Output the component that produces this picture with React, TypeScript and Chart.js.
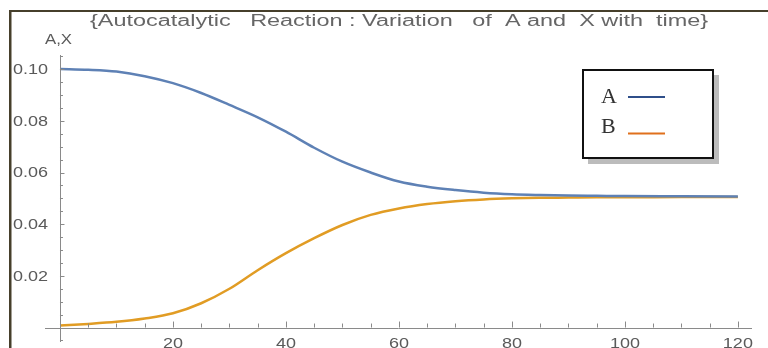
import React, { useEffect, useRef } from "react";
import { Chart, registerables } from "chart.js";

Chart.register(...registerables);

const TITLE = "{Autocatalytic   Reaction : Variation   of  A and  X with  time}";
const Y_AXIS_LABEL = "A,X";
const SERIES_NAMES = ["A", "B"];
const TIMES = [0, 5, 10, 15, 20, 25, 30, 35, 40, 45, 50, 55, 60, 65, 70, 75, 80, 85, 90, 95, 100, 110, 120];
const SERIES_A = [0.1001, 0.0998, 0.0991, 0.0973, 0.0946, 0.0908, 0.0862, 0.0814, 0.0758, 0.0696, 0.0642, 0.06, 0.0565, 0.0545, 0.0532, 0.0522, 0.0516, 0.0513, 0.0511, 0.051, 0.0509, 0.0508, 0.0507];
const SERIES_B = [0.0008, 0.0014, 0.0022, 0.0035, 0.0055, 0.0094, 0.015, 0.0222, 0.0288, 0.0346, 0.0397, 0.0436, 0.0461, 0.0478, 0.0489, 0.0496, 0.05, 0.0502, 0.0503, 0.0504, 0.0504, 0.0505, 0.0505];
const X_TICKS = [20, 40, 60, 80, 100, 120];
const X_TICK_LABELS = ["20", "40", "60", "80", "100", "120"];
const Y_TICKS = [0.02, 0.04, 0.06, 0.08, 0.1];
const Y_TICK_LABELS = ["0.02", "0.04", "0.06", "0.08", "0.10"];

const LINE_COLORS = ["#5e81b5", "#e19c24"];
const LEGEND_COLORS = ["#2f4f8a", "#e0701c"];
const SANS = "'Liberation Sans', Arial, sans-serif";
const SERIF = "'Liberation Serif', 'Times New Roman', serif";
const STRETCH = 1.2;

function stretchedText(ctx: CanvasRenderingContext2D, text: string, x: number, y: number, align: "left" | "center" | "right", sx: number = STRETCH) {
  const w = ctx.measureText(text).width * sx;
  let left = x;
  if (align === "center") left = x - w / 2;
  if (align === "right") left = x - w;
  ctx.save();
  ctx.translate(left, y);
  ctx.scale(sx, 1);
  ctx.textAlign = "left";
  ctx.fillText(text, 0, 0);
  ctx.restore();
}

const decorPlugin = {
  id: "decor",
  beforeDraw(chart: any) {
    const ctx: CanvasRenderingContext2D = chart.ctx;
    ctx.save();
    ctx.fillStyle = "#ffffff";
    ctx.fillRect(0, 0, chart.width, chart.height);
    ctx.fillStyle = "#463f2b";
    ctx.fillRect(9, 10, chart.width - 9, 2);
    ctx.fillRect(9, 10, 2.5, chart.height - 10);
    ctx.restore();
  },
  afterDatasetsDraw(chart: any) {
    const ctx: CanvasRenderingContext2D = chart.ctx;
    const xs = chart.scales.x;
    const ys = chart.scales.y;
    const area = chart.chartArea;
    const x0 = xs.getPixelForValue(0);
    const y0 = ys.getPixelForValue(0);
    ctx.save();
    ctx.strokeStyle = "#8a8a8a";
    ctx.lineWidth = 1;
    ctx.beginPath();
    ctx.moveTo(area.left, Math.round(y0) + 0.5);
    ctx.lineTo(area.right, Math.round(y0) + 0.5);
    ctx.moveTo(Math.round(x0) + 0.5, area.top);
    ctx.lineTo(Math.round(x0) + 0.5, area.bottom);
    ctx.stroke();
    ctx.beginPath();
    for (let t = 0; t <= 120; t += 5) {
      const px = Math.round(xs.getPixelForValue(t)) + 0.5;
      const len = t % 20 === 0 ? 6 : 4;
      ctx.moveTo(px, y0);
      ctx.lineTo(px, y0 - len);
    }
    for (let k = -1; k <= 21; k++) {
      const v = k * 0.005;
      const py = Math.round(ys.getPixelForValue(v)) + 0.5;
      const len = k % 4 === 0 ? 4.5 : 3;
      ctx.moveTo(x0, py);
      ctx.lineTo(x0 + len, py);
    }
    ctx.stroke();
    ctx.fillStyle = "#5a5a5a";
    ctx.font = `15px ${SANS}`;
    ctx.textBaseline = "middle";
    Y_TICKS.forEach((v, i) => {
      stretchedText(ctx, Y_TICK_LABELS[i], x0 - 12, ys.getPixelForValue(v) + 0.5, "right");
    });
    ctx.textBaseline = "top";
    X_TICKS.forEach((v, i) => {
      stretchedText(ctx, X_TICK_LABELS[i], xs.getPixelForValue(v), y0 + 8.5, "center");
    });
    // title, stretched horizontally like the reference
    ctx.fillStyle = "#666666";
    ctx.font = `16px ${SANS}`;
    ctx.textBaseline = "alphabetic";
    const titleW = ctx.measureText(TITLE).width;
    stretchedText(ctx, TITLE, 399, 25.5, "center", 618 / titleW);
    ctx.font = `14px ${SANS}`;
    ctx.fillStyle = "#5a5a5a";
    stretchedText(ctx, Y_AXIS_LABEL, 45, 44, "left");
    const lx = 583, ly = 70, lw = 130, lh = 88;
    ctx.fillStyle = "#bcbcbc";
    ctx.fillRect(lx + 5, ly + 5, lw + 1, lh + 1);
    ctx.fillStyle = "#ffffff";
    ctx.fillRect(lx, ly, lw, lh);
    ctx.strokeStyle = "#111111";
    ctx.lineWidth = 2;
    ctx.strokeRect(lx, ly, lw, lh);
    ctx.font = `22px ${SERIF}`;
    ctx.fillStyle = "#333333";
    ctx.textBaseline = "alphabetic";
    ctx.textAlign = "left";
    ctx.fillText(SERIES_NAMES[0], 601, 103);
    ctx.fillText(SERIES_NAMES[1], 601, 133);
    ctx.lineWidth = 2;
    ctx.strokeStyle = LEGEND_COLORS[0];
    ctx.beginPath();
    ctx.moveTo(628, 97);
    ctx.lineTo(665, 97);
    ctx.stroke();
    ctx.strokeStyle = LEGEND_COLORS[1];
    ctx.beginPath();
    ctx.moveTo(628, 133.5);
    ctx.lineTo(665, 133.5);
    ctx.stroke();
    ctx.restore();
  },
};

export default function App() {
  const ref = useRef<HTMLCanvasElement | null>(null);
  useEffect(() => {
    if (!ref.current) return;
    const chart = new Chart(ref.current, {
      type: "line",
      data: {
        datasets: [
          {
            label: SERIES_NAMES[0],
            data: TIMES.map((t, i) => ({ x: t, y: SERIES_A[i] })),
            borderColor: LINE_COLORS[0],
            borderWidth: 2.5,
            pointRadius: 0,
            cubicInterpolationMode: "monotone",
            fill: false,
          },
          {
            label: SERIES_NAMES[1],
            data: TIMES.map((t, i) => ({ x: t, y: SERIES_B[i] })),
            borderColor: LINE_COLORS[1],
            borderWidth: 2.5,
            pointRadius: 0,
            cubicInterpolationMode: "monotone",
            fill: false,
          },
        ],
      },
      options: {
        animation: false,
        responsive: false,
        devicePixelRatio: 1,
        layout: { padding: { left: 45, right: 16, top: 55, bottom: 6 } },
        scales: {
          x: { type: "linear", min: -2.65, max: 122.5, display: false },
          y: { type: "linear", min: -0.0056, max: 0.1055, display: false },
        },
        plugins: {
          legend: { display: false },
          title: { display: false },
          tooltip: { enabled: false },
        },
        events: [],
      },
      plugins: [decorPlugin],
    } as any);
    return () => chart.destroy();
  }, []);
  return (
    <div style={{ position: "fixed", left: 0, top: 0, width: 768, height: 348, background: "#fff" }}>
      <canvas ref={ref} width={768} height={348} style={{ display: "block" }} />
    </div>
  );
}
